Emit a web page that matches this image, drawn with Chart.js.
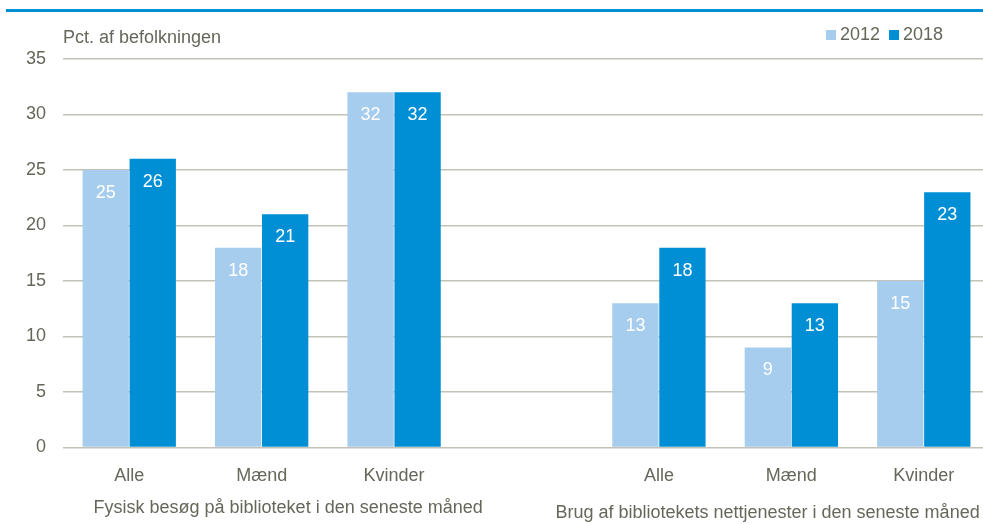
<!DOCTYPE html>
<html>
<head>
<meta charset="utf-8">
<script src="https://cdn.jsdelivr.net/npm/chart.js@4"></script>
<style>
  html, body { margin: 0; padding: 0; background: #fff; overflow: hidden; }
  #topline { position: absolute; left: 6px; top: 9px; width: 990px; height: 3px; background: #0090d5; }
  #wrap { position: absolute; left: 0; top: 0; width: 990px; height: 524px; }
</style>
</head>
<body>
<div id="topline"></div>
<div id="wrap"><canvas id="barChart" width="990" height="524"></canvas></div>
<script>
// Categories (empty slot = gap between the two groups)
const categories = ['Alle', 'Mænd', 'Kvinder', '', 'Alle', 'Mænd', 'Kvinder'];
const groupLabels = ['Fysisk besøg på biblioteket i den seneste måned', 'Brug af bibliotekets nettjenester i den seneste måned'];
const values2012 = [25, 18, 32, null, 13, 9, 15];
const values2018 = [26, 21, 32, null, 18, 13, 23];
const yTicks = [0, 5, 10, 15, 20, 25, 30, 35];

const textColor = '#66665a';
const gridColor = '#c4c2b6';
const fontFamily = '"Liberation Sans Narrow", "Arial Narrow", "Liberation Sans", Arial, sans-serif';

// Draws white value labels inside the top of each bar
const valueLabels = {
    id: 'valueLabels',
    afterDatasetsDraw(chart) {
        const ctx = chart.ctx;
        ctx.save();
        ctx.fillStyle = '#ffffff';
        ctx.font = '18px ' + fontFamily;
        ctx.textAlign = 'center';
        ctx.textBaseline = 'middle';
        chart.data.datasets.forEach((ds, i) => {
            chart.getDatasetMeta(i).data.forEach((bar, j) => {
                if (ds.data[j] == null) return;
                ctx.fillText(ds.data[j], bar.x, bar.y + 23);
            });
        });
        ctx.restore();
    }
};

// Axis title, legend at top right and the two group captions under the x axis
const extraText = {
    id: 'extraText',
    afterDraw(chart) {
        const ctx = chart.ctx;
        const x = chart.scales.x;
        const area = chart.chartArea;
        const slot = x.getPixelForValue(1) - x.getPixelForValue(0);
        ctx.save();
        ctx.fillStyle = textColor;
        ctx.font = '18px ' + fontFamily;
        ctx.textBaseline = 'middle';
        ctx.textAlign = 'left';
        ctx.fillText('Pct. af befolkningen', area.left, 38);

        // legend
        let lx = 826;
        chart.data.datasets.forEach(ds => {
            ctx.fillStyle = ds.backgroundColor;
            ctx.fillRect(lx, 30, 10, 10);
            ctx.fillStyle = textColor;
            ctx.fillText(ds.label, lx + 14, 35);
            lx += 14 + ctx.measureText(ds.label).width + 9;
        });

        ctx.textAlign = 'center';
        ctx.fillText(groupLabels[0], x.getPixelForValue(1) + 0.2 * slot, 508);
        ctx.fillText(groupLabels[1], x.getPixelForValue(5) - 0.18 * slot, 513);
        ctx.restore();
    }
};

const ctx = document.getElementById('barChart').getContext('2d');
const chart = new Chart(ctx, {
    type: 'bar',
    data: {
        labels: categories,
        datasets: [{
            label: '2012',
            data: values2012,
            backgroundColor: '#a6cdee',
            categoryPercentage: 0.71,
            barPercentage: 0.985
        }, {
            label: '2018',
            data: values2018,
            backgroundColor: '#008fd5',
            categoryPercentage: 0.71,
            barPercentage: 0.985
        }]
    },
    options: {
        responsive: false,
        animation: false,
        devicePixelRatio: 1,
        layout: { padding: { top: 59, right: 0, bottom: 27, left: 9 } },
        plugins: {
            legend: { display: false },
            tooltip: { enabled: false }
        },
        scales: {
            x: {
                grid: { display: false },
                border: { display: false },
                ticks: { color: textColor, font: { size: 18, family: fontFamily }, padding: 10 }
            },
            y: {
                min: 0,
                max: 35,
                afterBuildTicks: axis => { axis.ticks = yTicks.map(v => ({ value: v })); },
                grid: { color: gridColor, lineWidth: 1.5, drawTicks: false },
                border: { display: false },
                ticks: { color: textColor, font: { size: 18, family: fontFamily }, padding: 17 }
            }
        }
    },
    plugins: [valueLabels, extraText]
});
</script>
</body>
</html>
